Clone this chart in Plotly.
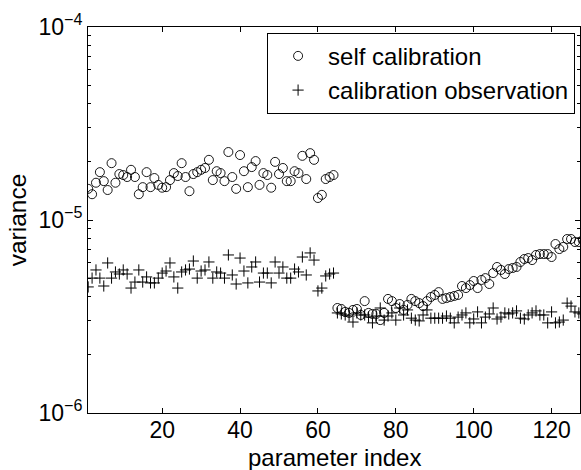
import plotly.graph_objects as go

# parameter index 1..128
param_index = list(range(1, 129))

# variance of the self calibration estimate
self_calibration = [
    1.45e-5, 1.36e-5, 1.56e-5, 1.77e-5, 1.59e-5, 1.43e-5, 1.97e-5, 1.56e-5, 1.73e-5, 1.71e-5,
    1.67e-5, 1.82e-5, 1.67e-5, 1.36e-5, 1.48e-5, 1.77e-5, 1.48e-5, 1.65e-5, 1.52e-5, 1.47e-5,
    1.48e-5, 1.61e-5, 1.75e-5, 1.69e-5, 1.97e-5, 1.67e-5, 1.41e-5, 1.73e-5, 1.77e-5, 1.82e-5,
    1.86e-5, 2.05e-5, 1.61e-5, 1.79e-5, 1.75e-5, 1.59e-5, 2.25e-5, 1.67e-5, 1.45e-5, 2.17e-5,
    1.79e-5, 1.48e-5, 1.88e-5, 2.02e-5, 1.52e-5, 1.75e-5, 1.71e-5, 1.47e-5, 2.00e-5, 1.73e-5,
    1.86e-5, 1.59e-5, 1.59e-5, 1.79e-5, 1.75e-5, 2.15e-5, 1.63e-5, 2.22e-5, 2.05e-5, 1.30e-5,
    1.35e-5, 1.63e-5, 1.67e-5, 1.71e-5,
    3.50e-6, 3.46e-6, 3.34e-6, 3.30e-6, 3.42e-6, 3.46e-6, 3.22e-6, 3.80e-6, 3.30e-6, 3.26e-6,
    3.26e-6, 3.03e-6, 3.30e-6, 3.90e-6, 3.80e-6, 3.50e-6, 3.67e-6, 3.42e-6, 3.63e-6, 3.90e-6,
    3.80e-6, 3.71e-6, 3.58e-6, 3.80e-6, 3.99e-6, 4.09e-6, 4.23e-6, 3.90e-6, 3.94e-6, 3.99e-6,
    4.04e-6, 4.09e-6, 4.55e-6, 4.44e-6, 4.60e-6, 4.83e-6, 4.44e-6, 4.89e-6, 5.00e-6, 4.66e-6,
    5.31e-6, 5.71e-6, 5.51e-6, 5.25e-6, 5.57e-6, 5.64e-6, 5.71e-6, 6.06e-6, 6.28e-6, 6.35e-6,
    6.20e-6, 6.59e-6, 6.66e-6, 6.66e-6, 6.66e-6, 6.43e-6, 7.51e-6, 7.07e-6, 7.25e-6, 7.97e-6,
    7.97e-6, 7.69e-6, 7.69e-6, 7.88e-6,
]

# variance of the calibration observation estimate
calibration_observation = [
    4.50e-6, 5.00e-6, 5.51e-6, 5.00e-6, 4.55e-6, 5.99e-6, 5.00e-6, 5.38e-6, 5.25e-6, 5.51e-6,
    5.25e-6, 4.44e-6, 4.77e-6, 5.51e-6, 4.77e-6, 5.07e-6, 4.72e-6, 4.72e-6, 5.00e-6, 5.31e-6,
    5.44e-6, 5.99e-6, 5.07e-6, 4.44e-6, 5.38e-6, 5.51e-6, 5.57e-6, 6.13e-6, 5.00e-6, 5.44e-6,
    5.51e-6, 6.06e-6, 5.00e-6, 5.38e-6, 5.31e-6, 5.00e-6, 6.59e-6, 5.19e-6, 4.66e-6, 6.35e-6,
    5.44e-6, 4.72e-6, 5.71e-6, 6.06e-6, 4.77e-6, 5.31e-6, 5.31e-6, 4.72e-6, 6.06e-6, 5.31e-6,
    5.71e-6, 5.00e-6, 5.00e-6, 5.57e-6, 5.38e-6, 6.43e-6, 5.19e-6, 6.75e-6, 6.20e-6, 4.29e-6,
    4.44e-6, 5.13e-6, 5.25e-6, 5.31e-6,
    3.30e-6, 3.26e-6, 3.22e-6, 3.18e-6, 2.96e-6, 3.30e-6, 3.22e-6, 3.22e-6, 3.14e-6, 2.93e-6,
    3.18e-6, 3.50e-6, 3.03e-6, 3.18e-6, 3.30e-6, 3.03e-6, 3.50e-6, 3.22e-6, 3.42e-6, 3.10e-6,
    3.03e-6, 3.00e-6, 3.22e-6, 3.42e-6, 3.10e-6, 3.10e-6, 3.10e-6, 3.10e-6, 3.18e-6, 3.10e-6,
    2.93e-6, 3.14e-6, 3.22e-6, 3.30e-6, 2.93e-6, 3.07e-6, 3.34e-6, 2.93e-6, 3.14e-6, 3.26e-6,
    3.50e-6, 3.07e-6, 3.14e-6, 3.30e-6, 3.26e-6, 3.30e-6, 3.38e-6, 3.10e-6, 3.07e-6, 3.22e-6,
    3.30e-6, 3.38e-6, 3.22e-6, 3.22e-6, 2.93e-6, 3.34e-6, 2.93e-6, 2.96e-6, 3.03e-6, 3.71e-6,
    3.58e-6, 3.34e-6, 3.30e-6, 3.26e-6,
]

x_ticks = [20, 40, 60, 80, 100, 120]
y_ticks = [1e-6, 1e-5, 1e-4]
y_ticktext = ["10<sup>\u22126</sup>", "10<sup>\u22125</sup>", "10<sup>\u22124</sup>"]
y_minor = [m * 10 ** e for e in (-6, -5) for m in range(2, 10)]

FONT = "Liberation Sans, Arial, sans-serif"

fig = go.Figure()

fig.add_trace(go.Scatter(
    x=param_index, y=self_calibration,
    mode="markers",
    name="self calibration",
    marker=dict(symbol="circle-open", size=9, color="black", line=dict(width=0.9, color="black")),
))
fig.add_trace(go.Scatter(
    x=param_index, y=calibration_observation,
    mode="markers",
    name="calibration observation",
    marker=dict(symbol="cross-thin-open", size=8, color="black", line=dict(width=1, color="black")),
))

axis_common = dict(
    showline=True, linecolor="black", linewidth=1, mirror="ticks",
    ticks="inside", ticklen=5, tickcolor="black", tickwidth=1,
    showgrid=False, zeroline=False,
    tickfont=dict(family=FONT, size=23, color="black"),
)

fig.update_layout(
    width=581, height=470,
    margin=dict(l=88, r=1, t=27, b=57),
    paper_bgcolor="white", plot_bgcolor="white",
    font=dict(family=FONT, size=24, color="black"),
    xaxis=dict(range=[0.95, 127.3], tickvals=x_ticks, ticklabelstandoff=-4, **axis_common),
    yaxis=dict(
        type="log", range=[-6, -4], tickvals=y_ticks, ticktext=y_ticktext,
        minor=dict(tickvals=y_minor, ticks="inside", ticklen=3, tickcolor="black"),
        title=dict(text="variance", standoff=4, font=dict(family=FONT, size=24.5)),
        **axis_common,
    ),
    legend=dict(
        x=0.99, y=0.985, xanchor="right", yanchor="top",
        bgcolor="white", bordercolor="black", borderwidth=1,
        font=dict(family=FONT, size=24, color="black"),
        tracegroupgap=0, itemwidth=50,
    ),
    showlegend=True,
)

# x axis title placed just under the tick labels, like the original
fig.add_annotation(
    text="parameter index", xref="paper", yref="paper",
    x=0.5, y=-0.114, xanchor="center", yanchor="middle",
    showarrow=False, font=dict(family=FONT, size=24, color="black"),
)

# the page body has a default 8px margin; drop it so the figure fills the window
fig.write_html(
    "out.html",
    config={"displayModeBar": False},
    post_script="document.body.style.margin='0';",
)
